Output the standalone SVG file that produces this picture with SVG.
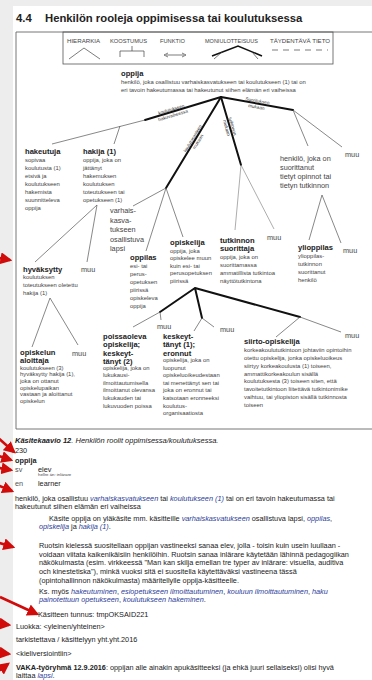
<svg xmlns="http://www.w3.org/2000/svg" width="372" height="680" viewBox="0 0 372 680">
<defs>
<style>
text{font-family:"Liberation Sans",Arial,sans-serif;fill:#333}
.h{font-weight:bold;font-size:11.3px;fill:#222}
.lg{font-size:5px;fill:#444}
.ti{font-weight:bold;font-size:7.6px;fill:#222}
.d{font-size:5.9px;fill:#444}
.m{font-size:7.3px;fill:#444}
.lb{font-size:4.6px;fill:#333}
.b{font-size:7.3px;fill:#222}
.g{fill:#555}
.bb{font-weight:bold}
.lk{font-style:italic;fill:#2c3d99}
.thin{stroke:#555;stroke-width:0.7;fill:none}
.gray{stroke:#8a8a8a}
.thick{stroke:#111;stroke-width:2;fill:none;stroke-linecap:round}
.frame{stroke:#666;stroke-width:0.9;fill:none}
.red{stroke:#d10a0a;stroke-width:2.6;fill:none;marker-end:url(#rarr)}
</style>
<marker id="rarr" viewBox="0 0 10 10" refX="8" refY="5" markerWidth="12" markerHeight="12" orient="auto" markerUnits="userSpaceOnUse">
<path d="M0,0 L10,5 L0,10 Z" fill="#d10a0a"/>
</marker>
</defs>
<rect width="372" height="680" fill="#fff"/>
<rect x="0" y="0" width="13" height="680" fill="#ededed"/>
<rect x="0" y="0" width="372" height="6" fill="#ededed"/>

<text class="h" x="16" y="22">4.4</text>
<text class="h" x="45" y="22">Henkilön rooleja oppimisessa tai koulutuksessa</text>

<!-- outer frame -->
<path class="frame" d="M16,32 H380 M16,32 V429 M16,429 H380"/>

<!-- legend -->
<g id="legend">
<rect x="63" y="32" width="270" height="32" fill="none" stroke="#555" stroke-width="0.8"/>
<text class="lg" x="67" y="43" textLength="33" lengthAdjust="spacingAndGlyphs">HIERARKIA</text>
<text class="lg" x="110" y="43" textLength="37" lengthAdjust="spacingAndGlyphs">KOOSTUMUS</text>
<text class="lg" x="160" y="43" textLength="25" lengthAdjust="spacingAndGlyphs">FUNKTIO</text>
<text class="lg" x="205" y="43" textLength="53" lengthAdjust="spacingAndGlyphs">MONIULOTTEISUUS</text>
<text class="lg" x="270" y="43" textLength="60" lengthAdjust="spacingAndGlyphs">TÄYDENTÄVÄ TIETO</text>
<path d="M69,59 L84,48 L100,59" fill="none" stroke="#444" stroke-width="0.7"/>
<path d="M132,46 V51 M120,57 V51 H144 V57" fill="none" stroke="#444" stroke-width="0.7"/>
<path d="M166,55 H184" stroke="#444" stroke-width="0.7"/>
<path d="M168,53 L164,55 L168,57 M182,53 L186,55 L182,57" fill="none" stroke="#444" stroke-width="0.7"/>
<path d="M212,56 L238,46 L262,56" fill="none" stroke="#111" stroke-width="1.6"/>
<path d="M222,52 L214,59 M252,52 L258,59" fill="none" stroke="#444" stroke-width="0.7"/>
<path d="M272,50 H328" stroke="#444" stroke-width="0.7" stroke-dasharray="6,5"/>
</g>

<!-- connectors -->
<g id="connectors">
<path class="thick" d="M221,97 L145,120"/>
<path class="thin" d="M145,120 L52,144"/>
<path class="thin" d="M120,126 L114,144"/>
<path class="thick" d="M221,97 L293,110"/>
<path class="thick" d="M221,97 L166,188"/>
<path class="thick" d="M221,97 L241,165"/>
<path class="thin" d="M293,110 L308,146 M293,110 L342,147"/>
<path class="thin" d="M322,195 L309,240 M322,195 L341,243"/>
<path class="thin gray" d="M241,165 L235,230 M241,165 L274,229"/>
<path class="thin" d="M166,188 L133,206 M166,188 L146,251 M166,188 L183,237"/>
<path class="thin" d="M97,205 L35,262 M97,205 L87,262"/>
<path class="thin" d="M50,298 L32,347 M50,298 L78,345"/>
<path class="thick" d="M195,288 L160,312 M195,288 L202,318 M195,288 L300,317"/>
<path class="thin" d="M160,312 L133,327 M160,312 L161,320"/>
<path class="thin" d="M202,318 L194,331 M202,318 L214,327"/>
<path class="thin" d="M300,317 L276,337 M300,317 L341,332"/>
<g transform="translate(172,112) rotate(-16.8)">
<text class="lb" x="0" y="-1.2" text-anchor="middle">koulutukseen</text>
<text class="lb" x="0" y="5" text-anchor="middle">hakuvaiheessa</text>
</g>
<g transform="translate(257,103.5) rotate(10.2)">
<text class="lb" x="0" y="-1.2" text-anchor="middle">Suorituksen</text>
<text class="lb" x="0" y="5" text-anchor="middle">mukaan</text>
</g>
<g transform="translate(195,140) rotate(-58.9)">
<text class="lb" x="0" y="-1.2" text-anchor="middle">koulutusasteen</text>
<text class="lb" x="0" y="5" text-anchor="middle">mukaan</text>
</g>
<g transform="translate(230,127) rotate(73.6)">
<text class="lb" x="0" y="-1.2" text-anchor="middle">tutkinnon</text>
<text class="lb" x="0" y="5" text-anchor="middle">mukaan</text>
</g>
</g>

<!-- nodes -->
<g id="n-oppija">
<text class="ti" x="121" y="75.5">oppija</text>
<text class="d" x="121" y="84">henkilö, joka osallistuu varhaiskasvatukseen tai koulutukseen (1) tai on</text>
<text class="d" x="121" y="92">eri tavoin hakeutumassa tai hakeutunut siihen elämän eri vaiheissa</text>
</g>
<g id="n-hakeutuja">
<text class="ti" x="25" y="154">hakeutuja</text>
<text class="d"><tspan x="25" y="161.5">sopivaa</tspan><tspan x="25" dy="8">koulutusta (1)</tspan><tspan x="25" dy="8">etsivä ja</tspan><tspan x="25" dy="8">koulutukseen</tspan><tspan x="25" dy="8">hakemista</tspan><tspan x="25" dy="8">suunnitteleva</tspan><tspan x="25" dy="8">oppija</tspan></text>
</g>
<g id="n-hakija">
<text class="ti" x="83" y="154">hakija (1)</text>
<text class="d"><tspan x="83" y="161.5">oppija, joka on</tspan><tspan x="83" dy="8">jättänyt</tspan><tspan x="83" dy="8">hakemuksen</tspan><tspan x="83" dy="8">koulutuksen</tspan><tspan x="83" dy="8">toteutukseen tai</tspan><tspan x="83" dy="8">opetukseen (1)</tspan></text>
</g>
<g id="n-suorittanut">
<text class="m"><tspan x="280" y="161">henkilö, joka on</tspan><tspan x="280" dy="9">suorittanut</tspan><tspan x="280" dy="9">tietyt opinnot tai</tspan><tspan x="280" dy="9">tietyn tutkinnon</tspan></text>
</g>
<g id="n-muu1"><text class="m" x="345" y="157">muu</text></g>
<g id="n-varhais">
<text class="m"><tspan x="110" y="213">varhais-</tspan><tspan x="110" dy="9.5">kasva-</tspan><tspan x="110" dy="9.5">tukseen</tspan><tspan x="110" dy="9.5">osallistuva</tspan><tspan x="110" dy="9.5">lapsi</tspan></text>
</g>
<g id="n-oppilas">
<text class="ti" x="130" y="259.5">oppilas</text>
<text class="d"><tspan x="130" y="267.5">esi- tai</tspan><tspan x="130" dy="8">perus-</tspan><tspan x="130" dy="8">opetuksen</tspan><tspan x="130" dy="8">piirissä</tspan><tspan x="130" dy="8">opiskeleva</tspan><tspan x="130" dy="8">oppija</tspan></text>
</g>
<g id="n-opiskelija">
<text class="ti" x="170" y="244.5">opiskelija</text>
<text class="d"><tspan x="170" y="252.5">oppija, joka</tspan><tspan x="170" dy="7.5">opiskelee muun</tspan><tspan x="170" dy="7.5">kuin esi- tai</tspan><tspan x="170" dy="7.5">perusopetuksen</tspan><tspan x="170" dy="7.5">piirissä</tspan></text>
</g>
<g id="n-tutkinnon">
<text class="ti"><tspan x="220" y="242.5">tutkinnon</tspan><tspan x="220" dy="8">suorittaja</tspan></text>
<text class="d"><tspan x="220" y="258.5">oppija, joka on</tspan><tspan x="220" dy="8.2">suorittamassa</tspan><tspan x="220" dy="8.2">ammatillista tutkintoa</tspan><tspan x="220" dy="8.2">näyttötutkintona</tspan></text>
</g>
<g id="n-muu2"><text class="m" x="267" y="240">muu</text></g>
<g id="n-ylioppilas">
<text class="ti" x="298" y="249.5">ylioppilas</text>
<text class="d"><tspan x="298" y="257.5">ylioppilas-</tspan><tspan x="298" dy="8.2">tutkinnon</tspan><tspan x="298" dy="8.2">suorittanut</tspan><tspan x="298" dy="8.2">henkilö</tspan></text>
</g>
<g id="n-muu3"><text class="m" x="343" y="252.5">muu</text></g>
<g id="n-hyvaksytty">
<text class="ti" x="23" y="272">hyväksytty</text>
<text class="d"><tspan x="23" y="279">koulutuksen</tspan><tspan x="23" dy="8">toteutukseen oletettu</tspan><tspan x="23" dy="8">hakija (1)</tspan></text>
</g>
<g id="n-muu4"><text class="m" x="81" y="272">muu</text></g>
<g id="n-aloittaja">
<text class="ti"><tspan x="20" y="355">opiskelun</tspan><tspan x="20" dy="7.5">aloittaja</tspan></text>
<text class="d"><tspan x="20" y="369.5">koulutukseen (3)</tspan><tspan x="20" dy="6.7">hyväksytty hakija (1),</tspan><tspan x="20" dy="6.7">joka on ottanut</tspan><tspan x="20" dy="6.7">opiskelupaikan</tspan><tspan x="20" dy="6.7">vastaan ja aloittanut</tspan><tspan x="20" dy="6.7">opiskelun</tspan></text>
</g>
<g id="n-muu5"><text class="m" x="72" y="355.5">muu</text></g>
<g id="n-poissaoleva">
<text class="ti"><tspan x="103" y="338.5">poissaoleva</tspan><tspan x="103" dy="8.5">opiskelija;</tspan><tspan x="103" dy="8.5">keskeyt-</tspan><tspan x="103" dy="8.5">tänyt (2)</tspan></text>
<text class="d"><tspan x="103" y="369.5">opiskelija, joka on</tspan><tspan x="103" dy="7.6">lukukausi-</tspan><tspan x="103" dy="7.6">ilmoittautumisella</tspan><tspan x="103" dy="7.6">ilmoittanut olevansa</tspan><tspan x="103" dy="7.6">lukukauden tai</tspan><tspan x="103" dy="7.6">lukuvuoden poissa</tspan></text>
</g>
<g id="n-muu6"><text class="m" x="157" y="329">muu</text></g>
<g id="n-keskeyttanyt">
<text class="ti"><tspan x="163" y="338.5">keskeyt-</tspan><tspan x="163" dy="8.5">tänyt (1);</tspan><tspan x="163" dy="8.5">eronnut</tspan></text>
<text class="d"><tspan x="163" y="362">opiskelija, joka on</tspan><tspan x="163" dy="7.6">luopunut</tspan><tspan x="163" dy="7.6">opiskeluoikeudestaan</tspan><tspan x="163" dy="7.6">tai menettänyt sen tai</tspan><tspan x="163" dy="7.6">joka on eronnut tai</tspan><tspan x="163" dy="7.6">katsotaan eronneeksi</tspan><tspan x="163" dy="7.6">koulutus-</tspan><tspan x="163" dy="7.6">organisaatiosta</tspan></text>
</g>
<g id="n-muu7"><text class="m" x="220" y="332">muu</text></g>
<g id="n-siirto">
<text class="ti" x="244" y="344">siirto-opiskelija</text>
<text class="d"><tspan x="244" y="352">korkeakoulututkintoon johtaviin opintoihin</tspan><tspan x="244" dy="7.86">otettu opiskelija, jonka opiskeluoikeus</tspan><tspan x="244" dy="7.86">siirtyy korkeakoulusta (1)  toiseen,</tspan><tspan x="244" dy="7.86">ammattikorkeakoulun sisällä</tspan><tspan x="244" dy="7.86">koulutuksesta (3) toiseen siten, että</tspan><tspan x="244" dy="7.86">tavoitetutkintoon liitettävä tutkintonimike</tspan><tspan x="244" dy="7.86">vaihtuu, tai yliopiston sisällä tutkinnosta</tspan><tspan x="244" dy="7.86">toiseen</tspan></text>
</g>
<g id="n-muu8"><text class="m" x="345" y="338">muu</text></g>

<!-- caption -->
<text class="b" x="15" y="443" style="font-size:7.5px;font-style:italic"><tspan class="bb">Käsitekaavio 12</tspan>. Henkilön roolit oppimisessa/koulutuksessa.</text>

<!-- entry -->
<g id="entry">
<text class="b" x="15" y="452.5">230</text>
<text class="b bb" x="15" y="462.5">oppija</text>
<text class="b g" x="15" y="471.5">sv</text>
<text class="b" x="38" y="471.5">elev</text>
<text x="38" y="476.3" style="font-size:4.3px;fill:#444">hellre än: inlärare</text>
<text class="b g" x="15" y="485.5">en</text>
<text class="b" x="38" y="485.5">learner</text>
<text class="b" x="15" y="500.5">henkilö, joka osallistuu <tspan class="lk">varhaiskasvatukseen</tspan> tai <tspan class="lk">koulutukseen (1)</tspan> tai on eri tavoin hakeutumassa tai</text>
<text class="b" x="15" y="508.5">hakeutunut siihen elämän eri vaiheissa</text>
<text class="b" x="49" y="520.5">Käsite oppija on yläkäsite mm. käsitteille <tspan class="lk">varhaiskasvatukseen</tspan> osallistuva lapsi, <tspan class="lk">oppilas</tspan>,</text>
<text class="b" x="39" y="529"><tspan class="lk">opiskelija</tspan> ja <tspan class="lk">hakija (1)</tspan>.</text>
<text class="b" x="39" y="547.5">Ruotsin kielessä suositellaan oppijan vastineeksi sanaa elev, jolla - toisin kuin usein luullaan -</text>
<text class="b" x="39" y="556.5">voidaan viitata kaikenikäisiin henkilöihin. Ruotsin sanaa inlärare käytetään lähinnä pedagogiikan</text>
<text class="b" x="39" y="565">näkökulmasta (esim. virkkeessä "Man kan skilja emellan tre typer av inlärare: visuella, auditiva</text>
<text class="b" x="39" y="573.5">och kinestetiska"), minkä vuoksi sitä ei suositella käytettäväksi vastineena tässä</text>
<text class="b" x="39" y="582.5">(opintohallinnon näkökulmasta) määritellylle oppija-käsitteelle.</text>
<text class="b" x="39" y="593.5">Ks. myös <tspan class="lk">hakeutuminen</tspan>, <tspan class="lk">esiopetukseen ilmoittautuminen</tspan>, <tspan class="lk">kouluun ilmoittautuminen</tspan>, <tspan class="lk">haku</tspan></text>
<text class="b" x="39" y="602"><tspan class="lk">painotettuun opetukseen</tspan>, <tspan class="lk">koulutukseen hakeminen</tspan>.</text>
<text class="b" x="38" y="616.5">Käsitteen tunnus: tmpOKSAID221</text>
<text class="b" x="16" y="628.5">Luokka: &lt;yleinen/yhteinen&gt;</text>
<text class="b" x="16" y="641.5">tarkistettava / käsittelyyn yht.yht.2016</text>
<text class="b" x="16" y="655.5">&lt;kieliversiointiin&gt;</text>
<text class="b" x="16" y="669.5"><tspan class="bb">VAKA-työryhmä 12.9.2016</tspan>: oppijan alle ainakin apukäsitteeksi (ja ehkä juuri sellaiseksi) olisi hyvä</text>
<text class="b" x="16" y="678">laittaa <tspan class="lk">lapsi</tspan>.</text>
</g>

<!-- red pointer arrows -->
<g id="red-arrows">
<path class="red" d="M-12,256 L10,260"/>
<path class="red" d="M-4,436 L14,452"/>
<path class="red" d="M-10,453 L11,460"/>
<path class="red" d="M-12,466 L11,470"/>
<path class="red" d="M-10,482 L12,491"/>
<path class="red" d="M-10,540 L13,547"/>
<path class="red" d="M0,597 L37,614"/>
<path class="red" d="M-12,622 L9,625"/>
<path class="red" d="M-12,651 L9,654"/>
<path class="red" d="M-8,676 L8,664"/>
</g>
</svg>
